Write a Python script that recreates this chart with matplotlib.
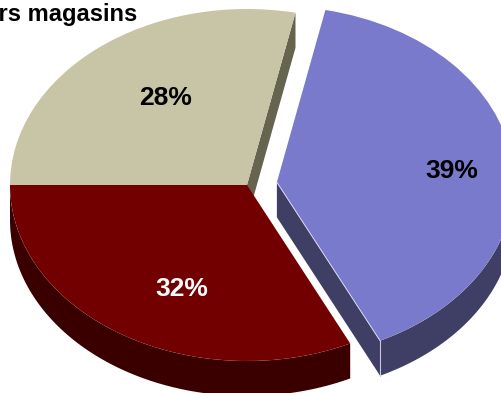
import matplotlib
matplotlib.use("Agg")
import matplotlib.pyplot as plt
import numpy as np

plt.rcParams['font.family'] = ['Liberation Sans', 'DejaVu Sans']

# slice values, clockwise from the left edge
shares = [28.28, 39.55, 32.17]
shown = ["28%", "39%", "32%"]
explode = [0, 0.127, 0]
top_colors = ["#C8C4A6", "#7A7ACC", "#730000"]
wall_colors = ["#66634F", "#3F3F66", "#3A0000"]
label_colors = ["k", "k", "w"]
title = "Hors magasins"

# pixel frame of the picture
W, H = 502, 393
cx, cy = 247, 185
rx, ry = 237, 176
depth = 35 / ry


def arc(wedge, t1, t2, drop=0):
    t = np.radians(np.linspace(t1, t2, 120))
    x0, y0 = wedge.center
    return np.c_[x0 + wedge.r * np.cos(t), y0 + wedge.r * np.sin(t) - drop]


def rim(wedge, t1, t2):
    return np.vstack([arc(wedge, t1, t2), arc(wedge, t2, t1, depth)])


def px(x, y):
    return (x - cx) / rx, (cy - y) / ry


fig = plt.figure(figsize=(W / 100, H / 100), dpi=100)
ax = fig.add_axes([0, 0, 1, 1])

wedges, _ = ax.pie(shares, explode=explode, colors=top_colors, startangle=180,
                   counterclock=False, radius=1, wedgeprops={"linewidth": 0})

ax.set_aspect("auto")
ax.set_xlim(-cx / rx, (W - cx) / rx)
ax.set_ylim((cy - H) / ry, cy / ry)
ax.set_axis_off()

beige, blue, red = wedges

# radial faces that can be seen
for w, col in [(beige, wall_colors[0]), (blue, wall_colors[1])]:
    edge = arc(w, w.theta1, w.theta1)[0]
    c = np.array(w.center)
    pts = [c, edge, edge - [0, depth], c - [0, depth]]
    ax.fill(*np.array(pts).T, color=col, lw=0, zorder=0.5)

# outer rims
ax.fill(*rim(blue, blue.theta1, 0).T, color=wall_colors[1], lw=0, zorder=0.6)
ax.fill(*rim(red, red.theta1, red.theta2).T, color=wall_colors[2], lw=0, zorder=0.6)

# thin highlight on the blue slice corner
edge = arc(blue, blue.theta1, blue.theta1)[0]
c = np.array(blue.center)
ax.plot([c[0], edge[0]], [c[1], edge[1]], color="#D8D8EE", lw=0.7, zorder=1.1)
ax.plot([edge[0], edge[0]], [edge[1], edge[1] - depth], color="#C8C8D8", lw=0.8, zorder=1.1)

for s, col, pos in zip(shown, label_colors, [(166, 98), (452, 171), (182, 289)]):
    ax.text(*px(*pos), s, color=col, fontsize=19, fontweight="bold",
            ha="center", va="center", zorder=3)

ax.text(*px(137, 21), title, color="k", fontsize=17, fontweight="bold",
        ha="right", va="baseline", zorder=3)

fig.savefig("out.png", dpi=100)
